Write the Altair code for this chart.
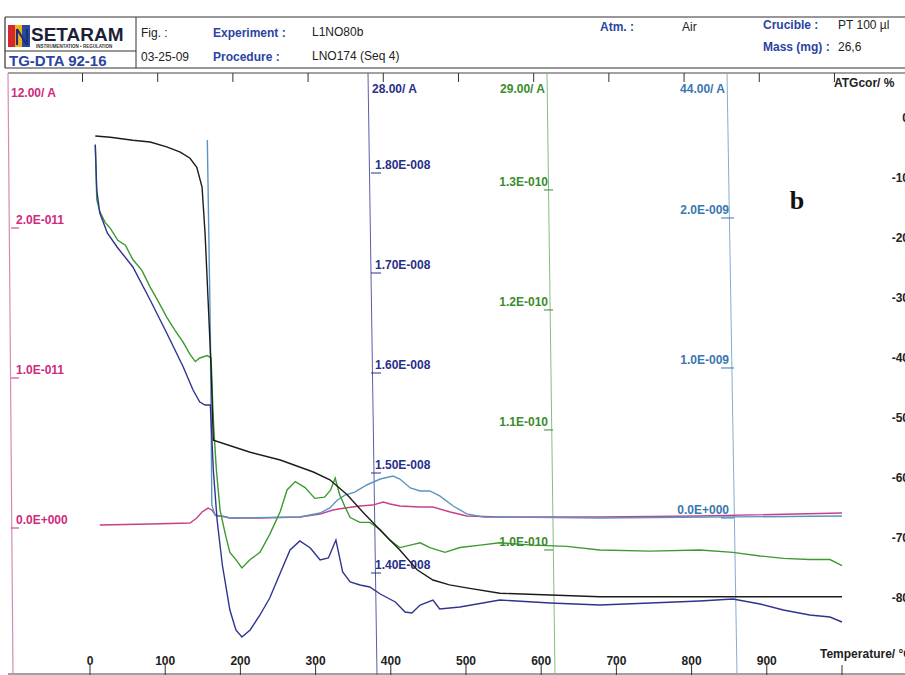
import altair as alt
import pandas as pd

# ---------------------------------------------------------------- data
# TG curve, ATGcor (%) against temperature (°C)
tg_temp = [7, 27, 57, 80, 102, 120, 133, 142, 149, 153, 157, 161, 164, 213, 253, 297, 319, 342, 363, 386,
           412, 435, 456, 478, 501, 545, 612, 678, 811, 1000]
tg_pct = [-3.0, -3.2, -3.7, -4.0, -4.8, -5.7, -6.7, -8.2, -11.5, -19.2, -30.3, -41.5, -53.7, -55.7, -57.0,
          -59.0, -60.3, -62.8, -65.7, -68.7, -72.0, -75.3, -77.0, -77.8, -78.3, -79.2, -79.5, -79.8, -79.8, -79.8]

# Ion current m/z 28 (x1e-8 A)
m28_temp = [7, 9, 13, 23, 36, 57, 80, 102, 124, 137, 146, 153, 160, 164, 169, 176, 186, 194, 202, 213,
            226, 239, 253, 266, 279, 293, 306, 317, 327, 336, 346, 359, 372, 386, 406, 419, 428, 439, 456, 465,
            492, 545, 612, 678, 745, 811, 855, 891, 922, 957, 984, 1000]
m28_val = [1.828, 1.783, 1.760, 1.740, 1.726, 1.706, 1.673, 1.640, 1.606, 1.583, 1.571, 1.568, 1.568, 1.503,
           1.453, 1.408, 1.363, 1.343, 1.336, 1.343, 1.358, 1.375, 1.400, 1.423, 1.432, 1.425, 1.413, 1.415,
           1.433, 1.401, 1.391, 1.388, 1.386, 1.379, 1.371, 1.361, 1.360, 1.368, 1.373, 1.364, 1.366, 1.373,
           1.370, 1.368, 1.370, 1.372, 1.374, 1.369, 1.363, 1.358, 1.356, 1.351]

# Ion current m/z 29 (x1e-10 A)
m29_temp = [7, 9, 13, 20, 27, 37, 47, 57, 69, 80, 90, 102, 113, 124, 133, 140, 146, 156, 161, 164,
            168, 173, 180, 186, 194, 202, 213, 226, 239, 253, 262, 273, 286, 299, 312, 320, 326, 332, 339, 346,
            359, 372, 386, 399, 412, 426, 439, 452, 472, 492, 519, 545, 589, 634, 678, 745, 811, 855, 891, 922,
            957, 984, 1000]
m29_val = [1.338, 1.292, 1.282, 1.273, 1.268, 1.258, 1.254, 1.242, 1.233, 1.219, 1.208, 1.194, 1.183, 1.173,
           1.163, 1.157, 1.160, 1.162, 1.160, 1.108, 1.067, 1.033, 1.013, 0.998, 0.992, 0.985, 0.992, 0.998,
           1.013, 1.032, 1.050, 1.057, 1.052, 1.043, 1.044, 1.050, 1.060, 1.046, 1.036, 1.027, 1.023, 1.023,
           1.017, 1.008, 1.002, 1.004, 1.006, 1.002, 0.998, 1.002, 1.004, 1.006, 1.004, 1.003, 1.000, 0.999,
           1.000, 0.998, 0.995, 0.993, 0.992, 0.992, 0.987]

# Ion current m/z 12 (x1e-11 A)
m12_temp = [13, 80, 133, 142, 149, 157, 162, 168, 176, 186, 226, 279, 306, 323, 339, 359, 376, 390, 399, 412,
            439, 456, 479, 501, 545, 678, 811, 1000]
m12_val = [0.020, 0.027, 0.033, 0.067, 0.107, 0.133, 0.120, 0.080, 0.080, 0.067, 0.067, 0.073, 0.093, 0.120,
           0.133, 0.147, 0.153, 0.173, 0.160, 0.147, 0.140, 0.140, 0.107, 0.080, 0.073, 0.073, 0.080, 0.100]

# Ion current m/z 44 (x1e-9 A)
m44_temp = [156, 160, 162, 166, 186, 279, 306, 319, 329, 339, 352, 368, 386, 403, 412, 426, 439, 452, 465, 483,
            501, 523, 678, 1000]
m44_val = [2.52, 1.25, 0.087, 0.020, 0.000, 0.007, 0.033, 0.067, 0.120, 0.153, 0.173, 0.220, 0.260, 0.280,
           0.260, 0.200, 0.180, 0.180, 0.147, 0.080, 0.027, 0.007, 0.000, 0.013]

# Axis tick values and their printed labels
m12_ticks = [0, 1, 2]
m12_labels = ["0.0E+000", "1.0E-011", "2.0E-011"]
m28_ticks = [1.4, 1.5, 1.6, 1.7, 1.8]
m28_labels = ["1.40E-008", "1.50E-008", "1.60E-008", "1.70E-008", "1.80E-008"]
m29_ticks = [1.0, 1.1, 1.2, 1.3]
m29_labels = ["1.0E-010", "1.1E-010", "1.2E-010", "1.3E-010"]
m44_ticks = [0, 1, 2]
m44_labels = ["0.0E+000", "1.0E-009", "2.0E-009"]
tg_ticks = [0, -10, -20, -30, -40, -50, -60, -70, -80]
tg_labels = ["0", "-10", "-20", "-30", "-40", "-50", "-60", "-70", "-80"]
temp_ticks = [0, 100, 200, 300, 400, 500, 600, 700, 800, 900, 1000]
temp_labels = ["0", "100", "200", "300", "400", "500", "600", "700", "800", "900", ""]
top_ticks = [-10, 90, 190, 290, 390, 490, 590, 690, 790, 890, 990]

# ---------------------------------------------------------------- styling
W, H = 905, 675
FONT = "Liberation Sans"
PINK, PINK_TXT = "#c4418a", "#cf2a7c"
NAVY, NAVY_TXT = "#30348f", "#28308a"
GREEN, GREEN_TXT = "#3c9a30", "#3a8c2e"
STEEL, STEEL_TXT = "#5b94c2", "#3a77b0"
BLACK = "#1c1c1c"
HEAD_BLUE = "#2b44a3"

xscale = alt.Scale(domain=[-119.7, 1083.8], nice=False, zero=False)
ONE = alt.Data(values=[{"k": 0}])


def yscale(dom):
    return alt.Scale(domain=dom, nice=False, zero=False)


def txt(s, x, y, size=12, weight="normal", color="#222", align="left", font=FONT, baseline="middle"):
    return alt.Chart(ONE).mark_text(
        text=s, align=align, baseline=baseline, fontSize=size, fontWeight=weight, color=color, font=font
    ).encode(x=alt.value(x), y=alt.value(y))


def seg(x1, y1, x2, y2, color="#333", w=1.0):
    return alt.Chart(ONE).mark_rule(color=color, strokeWidth=w).encode(
        x=alt.value(x1), y=alt.value(y1), x2=alt.value(x2), y2=alt.value(y2))


def box(x1, y1, x2, y2, color):
    return alt.Chart(ONE).mark_rect(color=color).encode(
        x=alt.value(x1), y=alt.value(y1), x2=alt.value(x2), y2=alt.value(y2))


def series(temp, val, dom, color, ticks, labels, tick_x, label_x, align, label_color, width=1.4):
    sc = yscale(dom)
    df = pd.DataFrame({"t": temp, "v": val})
    line = alt.Chart(df).mark_line(color=color, strokeWidth=width).encode(
        x=alt.X("t:Q", scale=xscale, axis=None),
        y=alt.Y("v:Q", scale=sc, axis=None),
    )
    tdf = pd.DataFrame({"v": ticks, "label": labels})
    parts = [line]
    if tick_x is not None:
        parts.append(alt.Chart(tdf).mark_rule(color=label_color, strokeWidth=1).encode(
            x=alt.value(tick_x[0]), x2=alt.value(tick_x[1]), y=alt.Y("v:Q", scale=sc, axis=None)))
    parts.append(alt.Chart(tdf).mark_text(
        align=align, baseline="bottom" if tick_x is not None else "middle", dy=-1 if tick_x is not None else 0,
        fontSize=12, fontWeight="bold", font=FONT, color=label_color,
    ).encode(x=alt.value(label_x), y=alt.Y("v:Q", scale=sc, axis=None), text="label:N"))
    return alt.layer(*parts)


# ---------------------------------------------------------------- curves with their own y scales
pink = series(m12_temp, m12_val, [-0.98, 3.52], PINK, m12_ticks, m12_labels, (11, 19), 16, "left", PINK_TXT)
navy = series(m28_temp, m28_val, [1.298, 1.973], NAVY, m28_ticks, m28_labels, (371, 381), 375, "left", NAVY_TXT)
green = series(m29_temp, m29_val, [0.8958, 1.4583], GREEN, m29_ticks, m29_labels, (544, 553), 548, "right", GREEN_TXT)
steel = series(m44_temp, m44_val, [-1.0467, 3.4533], STEEL, m44_ticks, m44_labels, (721, 734), 729, "right", STEEL_TXT)
tg = series(tg_temp, tg_pct, [-92.83, 19.67], BLACK, tg_ticks, tg_labels, None, 909, "right", "#222")

# ---------------------------------------------------------------- temperature axis
tdf = pd.DataFrame({"t": temp_ticks, "label": temp_labels})
bottom_ticks = alt.Chart(tdf).mark_rule(color="#333", strokeWidth=1).encode(
    x=alt.X("t:Q", scale=xscale, axis=None), y=alt.value(665), y2=alt.value(675))
bottom_labels = alt.Chart(tdf).mark_text(
    fontSize=12, fontWeight="bold", font=FONT, color="#222", baseline="middle"
).encode(x=alt.X("t:Q", scale=xscale, axis=None), y=alt.value(661), text="label:N")
top_tick_marks = alt.Chart(pd.DataFrame({"t": top_ticks})).mark_rule(color="#333", strokeWidth=1).encode(
    x=alt.X("t:Q", scale=xscale, axis=None), y=alt.value(73), y2=alt.value(82))

# ---------------------------------------------------------------- frame, vertical axes and header
frame = [
    seg(5, 17, 905, 17, "#333", 1.2),
    seg(5, 68, 905, 68, "#333", 1.2),
    seg(5, 17, 5, 68, "#333", 1.2),
    seg(136, 17, 136, 68, "#333", 1.0),
    seg(5, 51, 136, 51, "#333", 1.0),
    seg(8, 73, 905, 73, "#444", 1.0),
    seg(8, 674, 905, 674, "#444", 1.0),
    seg(8, 73, 13, 675, "#d88ab4", 1.2),
    seg(368, 73, 377, 675, "#5a5ea3", 1.0),
    seg(547, 73, 555, 675, "#86bd7e", 1.0),
    seg(727, 73, 737, 675, "#85acd0", 1.0),
]

logo = [
    box(8, 25, 15, 47, "#d8262d"),
    box(15, 25, 22, 47, "#f2b417"),
    box(22, 25, 30, 47, "#2a4a9e"),
    seg(17, 45, 17, 29, "#1f2f7a", 2.2),
    seg(17, 29, 27, 45, "#1f2f7a", 2.2),
    seg(27, 45, 27, 29, "#1f2f7a", 2.2),
    txt("SETARAM", 31, 35, size=19, weight=900, color="#1d1f3a"),
    txt("INSTRUMENTATION • REGULATION", 36, 47, size=4.5, weight="bold", color="#333"),
    txt("TG-DTA 92-16", 9, 61, size=15, weight="bold", color=HEAD_BLUE),
]

header = [
    txt("Fig. :", 141, 33),
    txt("03-25-09", 141, 57),
    txt("Experiment :", 213, 33, weight="bold", color=HEAD_BLUE),
    txt("Procedure :", 213, 57, weight="bold", color=HEAD_BLUE),
    txt("L1NO80b", 312, 32),
    txt("LNO174 (Seq  4)", 312, 56),
    txt("Atm. :", 600, 27, weight="bold", color=HEAD_BLUE),
    txt("Air", 682, 27),
    txt("Crucible :", 763, 25, weight="bold", color=HEAD_BLUE),
    txt("PT 100 µl", 838, 25),
    txt("Mass (mg) :", 763, 47, weight="bold", color=HEAD_BLUE),
    txt("26,6", 838, 47),
]

titles = [
    txt("12.00/ A", 11, 93, weight="bold", color=PINK_TXT),
    txt("28.00/ A", 372, 89, weight="bold", color=NAVY_TXT),
    txt("29.00/ A", 545, 89, weight="bold", color=GREEN_TXT, align="right"),
    txt("44.00/ A", 725, 89, weight="bold", color=STEEL_TXT, align="right"),
    txt("ATGcor/ %", 834, 83, weight="bold", color="#222"),
    txt("Temperature/ °C", 820, 654, weight="bold", color="#222"),
    txt("b", 797, 201, size=26, weight="bold", color="#111", align="center", font="Liberation Serif"),
]

chart = alt.layer(
    *frame, *logo, *header, *titles,
    top_tick_marks, bottom_ticks, bottom_labels,
    pink, steel, green, navy, tg,
).resolve_scale(y="independent").properties(
    width=W, height=H, padding=0, background="white",
    autosize=alt.AutoSizeParams(type="none"),
).configure_view(stroke=None)

chart.save("out.html", embed_options={"renderer": "svg", "actions": False})
